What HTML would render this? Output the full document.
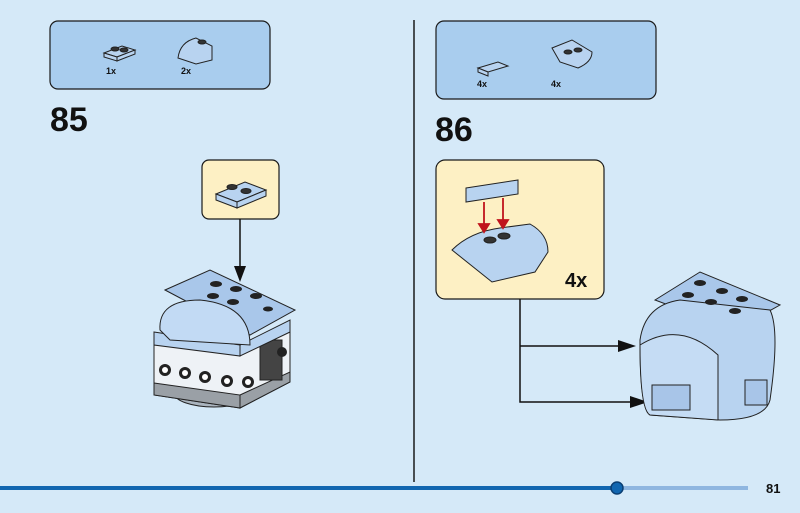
<!DOCTYPE html>
<html><head><meta charset="utf-8"><style>
html,body{margin:0;padding:0;background:#d5e9f8;}
svg{display:block;font-family:"Liberation Sans",sans-serif;}
</style></head><body>
<svg width="800" height="513" viewBox="0 0 800 513" xmlns="http://www.w3.org/2000/svg">
<rect width="800" height="513" fill="#d5e9f8"/>
<!-- divider -->
<line x1="414" y1="20" x2="414" y2="482" stroke="#1a1a1a" stroke-width="1.5"/>
<!-- parts boxes -->
<rect x="50" y="21" width="220" height="68" rx="8" fill="#a9cdee" stroke="#1a1a1a" stroke-width="1.2"/>
<rect x="436" y="21" width="220" height="78" rx="8" fill="#a9cdee" stroke="#1a1a1a" stroke-width="1.2"/>
<!-- parts 85 -->
<g stroke="#222" stroke-width="1" fill="#b8d3f0">
<polygon points="104,53 122,46 135,50 117,57"/><polygon points="104,53 117,57 117,61 104,57"/><polygon points="117,57 135,50 135,54 117,61"/>
<ellipse cx="115" cy="49" rx="4" ry="2" fill="#333"/><ellipse cx="124" cy="50" rx="4" ry="2" fill="#333"/>
<path d="M178,58 Q180,42 196,38 L212,46 L212,60 L196,64 Z"/>
<ellipse cx="202" cy="42" rx="4" ry="2" fill="#333"/>
<path d="M478,68 L498,62 L508,66 L488,72 Z"/><path d="M478,68 L488,72 L488,76 L478,72 Z"/>
<path d="M552,48 L572,40 L592,52 Q592,62 578,68 L560,62 Z"/>
<ellipse cx="568" cy="52" rx="4" ry="2" fill="#333"/><ellipse cx="578" cy="50" rx="4" ry="2" fill="#333"/>
</g>
<g font-size="9" font-weight="bold" fill="#111">
<text x="106" y="74">1x</text><text x="181" y="74">2x</text>
<text x="477" y="87">4x</text><text x="551" y="87">4x</text>
</g>
<text x="50" y="131" font-size="34" font-weight="bold" fill="#111">85</text>
<text x="435" y="141" font-size="34" font-weight="bold" fill="#111">86</text>
<!-- callout 85 -->
<rect x="202" y="160" width="77" height="59" rx="7" fill="#fdf0c4" stroke="#1a1a1a" stroke-width="1.2"/>
<g stroke="#222" fill="#b8d3f0">
<polygon points="216,194 245,182 266,190 237,202"/><polygon points="216,194 237,202 237,208 216,200"/><polygon points="237,202 266,190 266,196 237,208"/>
<ellipse cx="232" cy="187" rx="5" ry="2.5" fill="#333"/><ellipse cx="246" cy="191" rx="5" ry="2.5" fill="#333"/>
</g>
<line x1="240" y1="219" x2="240" y2="268" stroke="#111" stroke-width="1.5"/>
<polygon points="234,266 246,266 240,282" fill="#111"/>
<!-- model 85 -->
<g stroke="#222" stroke-width="1">
<ellipse cx="214" cy="393" rx="40" ry="14" fill="#aab4be"/>
<polygon points="154,340 240,350 290,325 290,382 240,408 154,395" fill="#eef2f6"/>
<polygon points="154,383 240,395 240,408 154,395" fill="#9aa0a6"/>
<polygon points="240,395 290,372 290,382 240,408" fill="#9aa0a6"/>
<rect x="260" y="340" width="22" height="40" fill="#444"/>
<polygon points="154,332 240,345 240,356 154,345" fill="#b8d3f0"/>
<polygon points="240,345 290,320 290,332 240,356" fill="#b8d3f0"/>
<polygon points="165,290 210,270 295,310 250,335" fill="#a9c7ea"/>
<path d="M160,330 Q158,300 200,300 Q250,305 250,345 L170,340 Z" fill="#c2daf4"/>
</g>
<g fill="#222"><circle cx="165" cy="370" r="6"/><circle cx="185" cy="373" r="6"/><circle cx="205" cy="377" r="6"/><circle cx="227" cy="381" r="6"/><circle cx="248" cy="382" r="6"/><circle cx="282" cy="352" r="5"/></g>
<g fill="#fff"><circle cx="165" cy="370" r="3"/><circle cx="185" cy="373" r="3"/><circle cx="205" cy="377" r="3"/><circle cx="227" cy="381" r="3"/><circle cx="248" cy="382" r="3"/></g>
<g fill="#222"><ellipse cx="216" cy="284" rx="6" ry="3"/><ellipse cx="236" cy="289" rx="6" ry="3"/><ellipse cx="256" cy="296" rx="6" ry="3"/><ellipse cx="213" cy="296" rx="6" ry="3"/><ellipse cx="233" cy="302" rx="6" ry="3"/><ellipse cx="268" cy="309" rx="5" ry="2.5"/></g>
<!-- callout 86 -->
<rect x="436" y="160" width="168" height="139" rx="9" fill="#fdf0c4" stroke="#1a1a1a" stroke-width="1.2"/>
<g stroke="#222" fill="#b8d3f0">
<polygon points="466,188 518,180 518,194 466,202"/>
<path d="M452,250 Q470,232 500,228 L530,224 Q548,234 548,252 L535,272 L492,282 Z"/>
<ellipse cx="490" cy="240" rx="6" ry="3" fill="#333"/><ellipse cx="504" cy="236" rx="6" ry="3" fill="#333"/>
</g>
<g stroke="#c0141c" stroke-width="1.8" fill="#c0141c">
<line x1="484" y1="202" x2="484" y2="226"/><polygon points="479,224 489,224 484,232"/>
<line x1="503" y1="198" x2="503" y2="222"/><polygon points="498,220 508,220 503,228"/>
</g>
<text x="565" y="287" font-size="20" font-weight="bold" fill="#111">4x</text>
<polyline points="520,299 520,402 632,402" fill="none" stroke="#111" stroke-width="1.5"/>
<line x1="520" y1="346" x2="622" y2="346" stroke="#111" stroke-width="1.5"/>
<polygon points="618,340 636,346 618,352" fill="#111"/>
<polygon points="630,396 648,402 630,408" fill="#111"/>
<!-- model 86 -->
<g stroke="#222" stroke-width="1">
<polygon points="655,300 700,272 780,305 735,330" fill="#a9c7ea"/>
<path d="M640,340 Q645,305 680,300 L770,310 Q780,330 770,400 Q765,420 720,420 L650,415 Q640,410 640,340 Z" fill="#b8d3f0"/>
<path d="M640,345 Q680,320 718,355 L718,420 L650,415 Q640,410 640,345Z" fill="#c5dcf4"/>
<rect x="652" y="385" width="38" height="25" fill="#a8c5e8"/>
<rect x="745" y="380" width="22" height="25" fill="#a8c5e8"/>
</g>
<g fill="#222"><ellipse cx="700" cy="283" rx="6" ry="3"/><ellipse cx="722" cy="291" rx="6" ry="3"/><ellipse cx="742" cy="299" rx="6" ry="3"/><ellipse cx="688" cy="295" rx="6" ry="3"/><ellipse cx="711" cy="302" rx="6" ry="3"/><ellipse cx="735" cy="311" rx="6" ry="3"/></g>
<!-- progress bar -->
<line x1="0" y1="488" x2="617" y2="488" stroke="#1166b0" stroke-width="4"/>
<line x1="617" y1="488" x2="748" y2="488" stroke="#8fb6e0" stroke-width="4"/>
<circle cx="617" cy="488" r="6" fill="#1166b0" stroke="#0b3f73" stroke-width="1.5"/>
<text x="766" y="493" font-size="13" font-weight="bold" fill="#111">81</text>
</svg>
</body></html>
